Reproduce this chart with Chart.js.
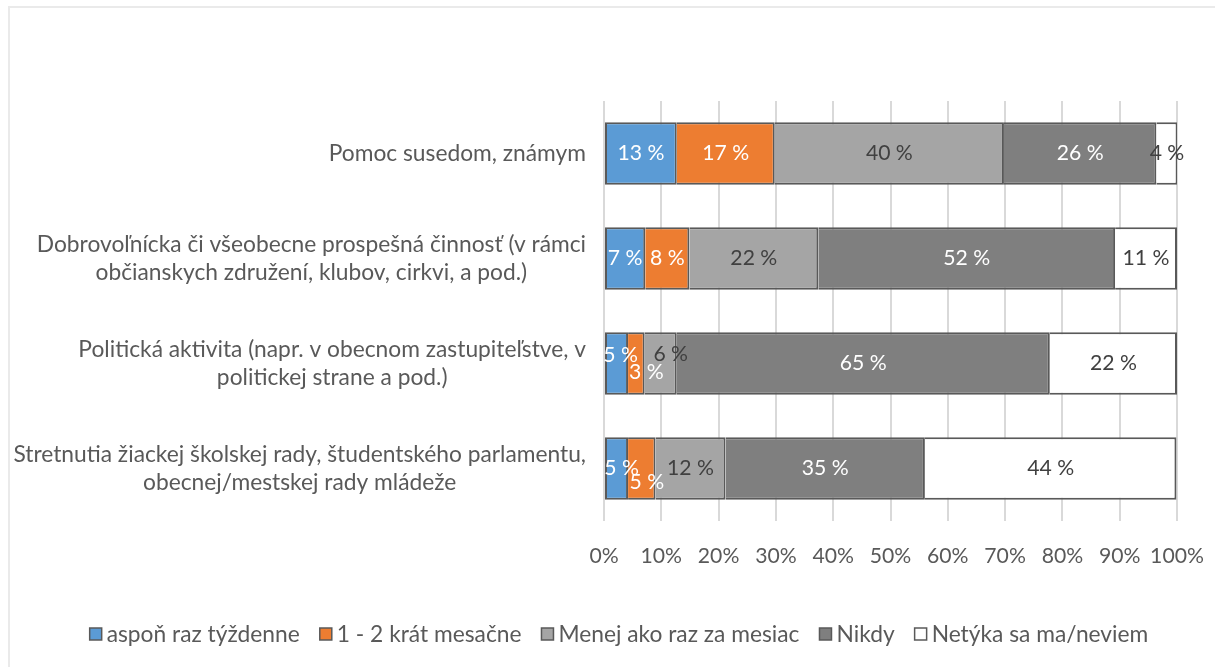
<!DOCTYPE html>
<html><head><meta charset="utf-8">
<script src="https://cdn.jsdelivr.net/npm/chart.js@4/dist/chart.umd.min.js"></script>
<style>html,body{margin:0;padding:0;background:#fff;overflow:hidden}canvas{display:block}</style>
</head><body><canvas id="c" width="1215" height="667"></canvas>
<script>
// ---- data ----
const categories = [
  ["Pomoc susedom, známym"],
  ["Dobrovoľnícka či všeobecne prospešná činnosť (v rámci", "občianskych združení, klubov, cirkvi, a pod.)"],
  ["Politická aktivita (napr. v obecnom zastupiteľstve, v", "politickej strane a pod.)"],
  ["Stretnutia žiackej školskej rady, študentského parlamentu,", "obecnej/mestskej rady mládeže"]
];
const seriesNames = ["aspoň raz týždenne", "1 - 2 krát mesačne", "Menej ako raz za mesiac", "Nikdy", "Netýka sa ma/neviem"];
const weekly          = [12.7, 7.2, 4.2, 4.2];
const monthly         = [17.1, 7.7, 2.9, 4.8];
const lessThanMonthly = [40.0, 22.5, 5.6, 12.2];
const never           = [26.6, 51.8, 65.1, 34.8];
const notApplicable   = [3.7, 10.8, 22.2, 43.9];
const weeklyLabels          = ["13 %", "7 %", "5 %", "5 %"];
const monthlyLabels         = ["17 %", "8 %", "3 %", "5 %"];
const lessThanMonthlyLabels = ["40 %", "22 %", "6 %", "12 %"];
const neverLabels           = ["26 %", "52 %", "65 %", "35 %"];
const notApplicableLabels   = ["4 %", "11 %", "22 %", "44 %"];
const xTickLabels = ["0%", "10%", "20%", "30%", "40%", "50%", "60%", "70%", "80%", "90%", "100%"];

// ---- styles ----
const FAMILY = "Lato, 'Open Sans', sans-serif";
const mctx = document.createElement('canvas').getContext('2d');
mctx.font = "100px " + FAMILY;
const FS = 100 * 573 / mctx.measureText(categories[3][0]).width;
const NFS = FS * 0.93;
const TEXT = '#595959';
const colors = ['#5B9BD5', '#ED7D31', '#A5A5A5', '#7F7F7F', '#FFFFFF'];
const labelColors = ['#FFFFFF', '#FFFFFF', '#404040', '#FFFFFF', '#404040'];
const allValues = [weekly, monthly, lessThanMonthly, never, notApplicable];
const allLabels = [weeklyLabels, monthlyLabels, lessThanMonthlyLabels, neverLabels, notApplicableLabels];
// manual nudges of overlapping labels (dataset,row) -> [dx, dy]
const nudges = {'0,2':[4,-8], '1,2':[10,9], '2,2':[10,-9], '0,3':[5,0], '1,3':[5,14]};

const frame = {
  id: 'frame',
  beforeDraw(chart) {
    const c = chart.ctx;
    c.save();
    c.fillStyle = '#fff'; c.fillRect(0, 0, chart.width, chart.height);
    c.strokeStyle = '#EAEAEA'; c.lineWidth = 2;
    c.beginPath(); c.moveTo(9, chart.height); c.lineTo(9, 7); c.lineTo(chart.width, 7); c.stroke();
    c.restore();
  }
};

const catLabels = {
  id: 'catLabels',
  afterDraw(chart) {
    const c = chart.ctx, ys = chart.scales.y;
    c.save();
    c.font = FS + 'px ' + FAMILY; c.fillStyle = TEXT;
    c.textAlign = 'center'; c.textBaseline = 'middle';
    const right = 586, lh = FS * 1.2;
    categories.forEach((lines, i) => {
      const y = ys.getPixelForValue(i);
      const w = Math.max(...lines.map(l => c.measureText(l).width));
      const cx = right - w / 2;
      lines.forEach((l, k) => c.fillText(l, cx, y + (k - (lines.length - 1) / 2) * lh));
    });
    c.restore();
  }
};

const dataLabels = {
  id: 'dataLabels',
  afterDatasetsDraw(chart) {
    const c = chart.ctx;
    c.save();
    c.font = NFS + 'px ' + FAMILY; c.textAlign = 'center'; c.textBaseline = 'middle';
    chart.data.datasets.forEach((ds, di) => {
      chart.getDatasetMeta(di).data.forEach((bar, i) => {
        const n = nudges[di + ',' + i] || [0, 0];
        c.fillStyle = labelColors[di];
        c.fillText(allLabels[di][i], (bar.x + bar.base) / 2 + n[0], bar.y + n[1]);
      });
    });
    c.restore();
  }
};

const legendPlugin = {
  id: 'legendPlugin',
  afterDraw(chart) {
    const c = chart.ctx;
    c.save();
    c.font = FS + 'px ' + FAMILY; c.textBaseline = 'middle'; c.textAlign = 'left';
    const box = 12, gap = 5, itemGap = 20, cy = 634;
    const widths = seriesNames.map(s => c.measureText(s).width);
    const total = widths.reduce((a, w) => a + box + gap + w, 0) + itemGap * (seriesNames.length - 1);
    let x = 619 - total / 2;
    seriesNames.forEach((s, i) => {
      c.fillStyle = colors[i]; c.fillRect(x, cy - box / 2, box, box);
      c.strokeStyle = '#595959'; c.lineWidth = 1.5; c.strokeRect(x, cy - box / 2, box, box);
      c.fillStyle = TEXT; c.fillText(s, x + box + gap, cy + 1);
      x += box + gap + widths[i] + itemGap;
    });
    c.restore();
  }
};

new Chart(document.getElementById('c'), {
  type: 'bar',
  data: {
    labels: categories,
    datasets: seriesNames.map((name, i) => ({
      label: name,
      data: allValues[i],
      backgroundColor: colors[i],
      borderColor: '#595959',
      borderWidth: 2,
      borderSkipped: i === 0 ? false : 'start',
      barPercentage: 0.595,
      categoryPercentage: 1
    }))
  },
  options: {
    indexAxis: 'y',
    responsive: false,
    animation: false,
    layout: { padding: { left: 604, right: 38, top: 101, bottom: 0 } },
    plugins: { legend: { display: false }, tooltip: { enabled: false } },
    scales: {
      x: {
        stacked: true, min: 0, max: 100,
        ticks: { stepSize: 10, color: TEXT, font: { family: FAMILY, size: NFS }, padding: 22,
                 maxRotation: 0, minRotation: 0, autoSkip: false,
                 callback: (v, i) => xTickLabels[i] },
        grid: { color: '#D9D9D9', lineWidth: 2, drawTicks: false },
        border: { display: false },
        afterFit: (s) => { s.height = 667 - 521; s.paddingLeft = 0; s.paddingRight = 0; }
      },
      y: { stacked: true, display: false }
    }
  },
  plugins: [frame, catLabels, dataLabels, legendPlugin]
});
</script>
</body></html>
